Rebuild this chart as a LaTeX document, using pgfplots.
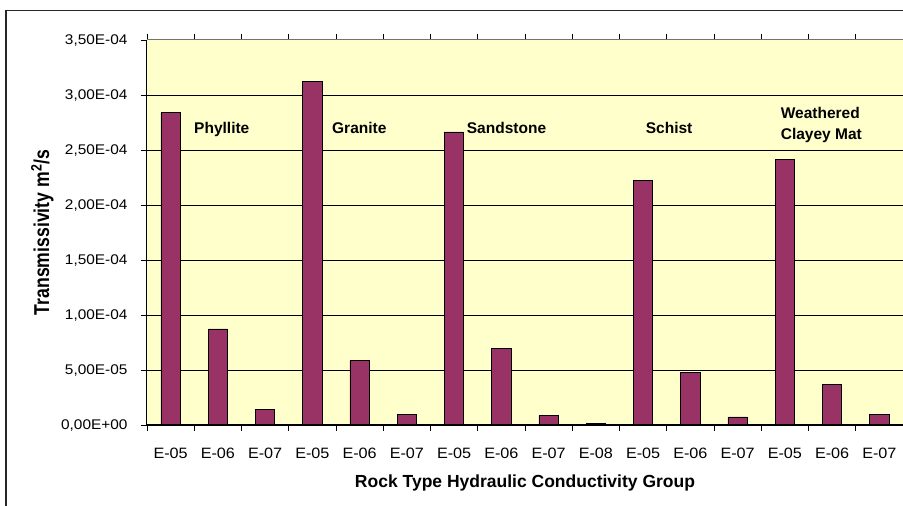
\documentclass[border=0pt]{standalone}
\usepackage{fontspec}
\setmainfont{Liberation Sans}
\newfontfamily\yfont[FakeStretch=1.1]{Liberation Sans}
\newfontfamily\xfont[FakeStretch=1.08]{Liberation Sans}
\newfontfamily\ylabfont[FakeStretch=0.82]{Liberation Sans}
\usepackage{pgfplots}
\pgfplotsset{compat=1.18}
\definecolor{plotbg}{RGB}{255,255,204}
\definecolor{barcol}{RGB}{153,51,102}

\begin{document}
\begin{tikzpicture}[x=1pt,y=1pt]
\useasboundingbox (0,0) rectangle (903,506);
\draw[line width=1.5pt, black!85] (6,-5) -- (6,495.5) -- (910,495.5);
\begin{axis}[
  at={(147pt,81pt)}, anchor=south west,
  width=756pt, height=385pt, scale only axis,
  xmin=-0.5, xmax=15.5, ymin=0, ymax=3.5e-4,
  axis background/.style={fill=plotbg},
  axis line style={draw=none},
  clip=false,
  ybar, bar width=19.3pt,
  xtick={0,...,15},
  xticklabels={E-05,E-06,E-07,E-05,E-06,E-07,E-05,E-06,E-07,E-08,E-05,E-06,E-07,E-05,E-06,E-07},
  minor xtick={-0.5,0.5,...,15.5},
  ytick={0,5e-5,1e-4,1.5e-4,2e-4,2.5e-4,3e-4},
  yticklabels={0{,}00E+00,5{,}00E-05,1{,}00E-04,1{,}50E-04,2{,}00E-04,2{,}50E-04,3{,}00E-04},
  extra y ticks={3.5e-4},
  extra y tick labels={3{,}50E-04},
  extra y tick style={grid=none},
  scaled y ticks=false,
  ymajorgrids,
  grid style={black, line width=0.9pt},
  tick align=outside,
  major tick length=6pt, minor tick length=6pt,
  major x tick style={draw=none},
  minor x tick style={black, line width=0.9pt},
  ytick style={black, line width=0.9pt},
  yticklabel style={font=\yfont\fontsize{14}{16}\selectfont, anchor=base east, yshift=-5pt, xshift=-10pt},
  xticklabel style={font=\xfont\fontsize{15}{17}\selectfont, anchor=base, yshift=-28pt},
  xlabel={Rock Type Hydraulic Conductivity Group},
  xlabel style={font=\bfseries\fontsize{17.5}{20}\selectfont, at={(axis description cs:0.5,-0.1636)}, anchor=base},
  ylabel={Transmissivity m\textsuperscript{2}/s},
  ylabel style={font=\ylabfont\bfseries\fontsize{21.5}{24}\selectfont, at={(axis description cs:-0.1296,0.5)}, anchor=base},
]
\addplot[fill=barcol, draw=black, line width=0.9pt] coordinates {
  (0,2.839e-4) (1,0.873e-4) (2,0.145e-4)
  (3,3.121e-4) (4,0.588e-4) (5,0.097e-4)
  (6,2.664e-4) (7,0.697e-4) (8,0.085e-4) (9,0.012e-4)
  (10,2.221e-4) (11,0.476e-4) (12,0.073e-4)
  (13,2.418e-4) (14,0.367e-4) (15,0.097e-4)
};
\draw[draw=black!55, line width=1pt] (rel axis cs:0,1) -- (rel axis cs:1,1);
\draw[black, line width=1pt] (rel axis cs:0,1) -- (rel axis cs:0,0) -- (rel axis cs:1,0);
\node[anchor=base west, inner sep=0, font=\bfseries\fontsize{15.5}{17}\selectfont] at (axis cs:0.495,2.6545e-4) {Phyllite};
\node[anchor=base west, inner sep=0, font=\bfseries\fontsize{15.5}{17}\selectfont] at (axis cs:3.415,2.6545e-4) {Granite};
\node[anchor=base west, inner sep=0, font=\bfseries\fontsize{15.5}{17}\selectfont] at (axis cs:6.266,2.6545e-4) {Sandstone};
\node[anchor=base west, inner sep=0, font=\bfseries\fontsize{15.5}{17}\selectfont] at (axis cs:10.054,2.6545e-4) {Schist};
\node[anchor=base west, inner sep=0, font=\bfseries\fontsize{15.5}{17}\selectfont] at (axis cs:12.911,2.782e-4) {Weathered};
\node[anchor=base west, inner sep=0, font=\bfseries\fontsize{15.5}{17}\selectfont] at (axis cs:12.911,2.591e-4) {Clayey Mat};
\end{axis}
\end{tikzpicture}
\end{document}
